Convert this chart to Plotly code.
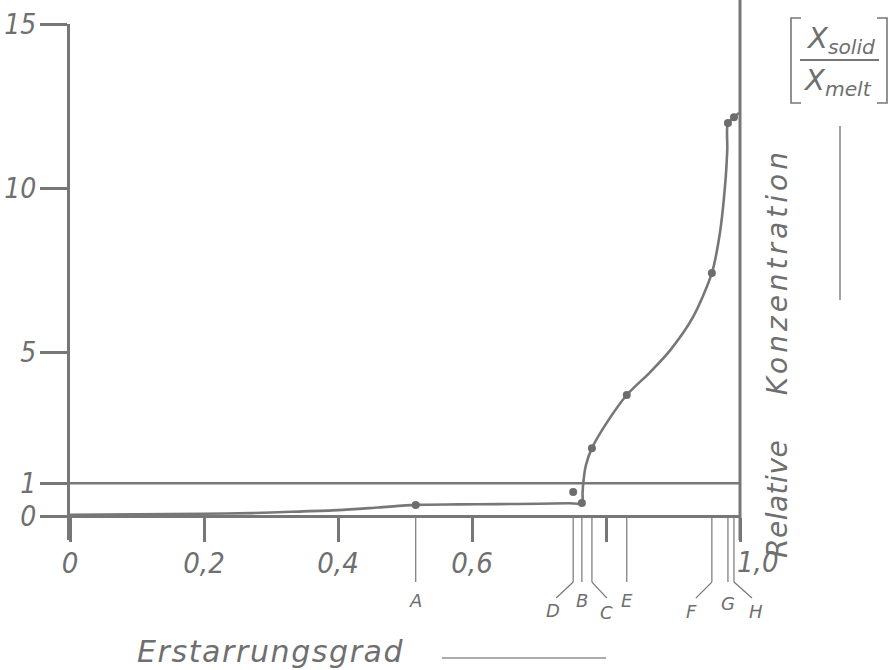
import plotly.graph_objects as go

# Sample positions: solidified fraction and relative concentration X_solid / X_melt
point_labels = ["A", "B", "C", "D", "E", "F", "G", "H"]
point_x = [0.516, 0.764, 0.779, 0.751, 0.831, 0.958, 0.982, 0.991]
point_y = [0.34, 0.40, 2.07, 0.73, 3.69, 7.41, 11.98, 12.16]

# Faired distribution curve through the samples
curve_x = [0.0, 0.10, 0.20, 0.27, 0.33, 0.40, 0.46, 0.516, 0.58, 0.64,
           0.70, 0.745, 0.764, 0.765, 0.766, 0.770, 0.779, 0.801, 0.831,
           0.866, 0.896, 0.930, 0.958, 0.970, 0.978, 0.981, 0.982,
           0.991, 0.9985]
curve_y = [0.04, 0.05, 0.07, 0.09, 0.13, 0.18, 0.26, 0.34, 0.355, 0.365,
           0.375, 0.39, 0.40, 0.70, 1.00, 1.55, 2.07, 2.84, 3.69,
           4.39, 5.06, 6.07, 7.41, 8.63, 10.15, 11.16, 11.98,
           12.16, 12.29]

# Axis ticks
y_tick_vals = [0, 1, 5, 10, 15]
y_tick_text = ["0", "1", "5", "10", "15"]
x_tick_vals = [0, 0.2, 0.4, 0.6, 0.8, 1.0]
x_tick_text = ["0", "0,2", "0,4", "0,6", "", ""]
x_end_label = "1,0"
reference_level = 1

# Page geometry
W, H = 893, 670
ML, MR, MT, MB = 70, 153, 24, 130
PW, PH = W - ML - MR, H - MT - MB
X_RANGE = [0.0, 1.0]
Y_RANGE = [-0.73, 15.0]

GREY = "#777777"
TEXT = "#6f6f6f"
NUM_FONT = "Liberation Sans Narrow, DejaVu Sans Condensed, Liberation Sans, sans-serif"
WORD_FONT = "DejaVu Sans, sans-serif"


def px(xp):
    return (xp - ML) / PW


def py(yp):
    return (H - MB - yp) / PH


def xpaper(x):
    return (x - X_RANGE[0]) / (X_RANGE[1] - X_RANGE[0])


y_zero = (0 - Y_RANGE[0]) / (Y_RANGE[1] - Y_RANGE[0])

fig = go.Figure()

fig.add_trace(go.Scatter(
    x=curve_x, y=curve_y, mode="lines",
    line=dict(color=GREY, width=2.6, shape="spline", smoothing=0.8),
    hoverinfo="skip", showlegend=False,
))
fig.add_trace(go.Scatter(
    x=point_x, y=point_y, mode="markers", text=point_labels,
    marker=dict(color="#6d6d6d", size=8),
    cliponaxis=False, showlegend=False,
))

shapes = []
annotations = []

# Reference level X_solid = X_melt
shapes.append(dict(type="line", xref="x", yref="y", x0=X_RANGE[0], x1=X_RANGE[1],
                   y0=reference_level, y1=reference_level,
                   line=dict(color=GREY, width=2.4)))

# Right frame line running up past the top
shapes.append(dict(type="line", xref="paper", yref="paper", x0=xpaper(1.0), x1=xpaper(1.0),
                   y0=0, y1=py(0), line=dict(color=GREY, width=3)))

# Leader lines from each sample down to its letter
bend = {"D": (-17, -20, -94), "C": (15, 15, -96), "F": (-16, -20, -95), "H": (18, 22, -95)}
for lab, xv in zip(point_labels, point_x):
    xa = xpaper(xv)
    common = dict(xref="paper", yref="paper", xsizemode="pixel", ysizemode="pixel",
                  xanchor=xa, yanchor=y_zero, line=dict(color=GREY, width=1.2))
    shapes.append(dict(type="line", x0=0, x1=0, y0=0, y1=-66, **common))
    if lab in bend:
        dx, lx, ly = bend[lab]
        shapes.append(dict(type="line", x0=0, x1=dx, y0=-66, y1=-82, **common))
    else:
        lx, ly = 0, (-87 if lab == "G" else -84)
    annotations.append(dict(text=lab, xref="paper", yref="paper", x=xa, y=y_zero,
                            xshift=lx, yshift=ly, showarrow=False,
                            xanchor="center", yanchor="middle",
                            font=dict(family=WORD_FONT, size=18, color=TEXT, style="italic")))

# Tick label at the right end of the abscissa
annotations.append(dict(text=x_end_label, xref="paper", yref="paper", x=xpaper(1.0), y=y_zero,
                        xshift=17, yshift=-46, showarrow=False, xanchor="center", yanchor="middle",
                        font=dict(family=NUM_FONT, size=29, color=TEXT, style="italic")))

# Abscissa title with arrow line
annotations.append(dict(text='<span style="letter-spacing:1.6px">Erstarrungsgrad</span>',
                        xref="paper", yref="paper", x=px(135), y=py(651), showarrow=False,
                        xanchor="left", yanchor="middle",
                        font=dict(family=WORD_FONT, size=30, color=TEXT, style="italic")))
shapes.append(dict(type="line", xref="paper", yref="paper", x0=px(442), x1=px(606),
                   y0=py(658), y1=py(658), line=dict(color="#8f8f8f", width=1.6)))

# Ordinate title, rotated, with arrow line
ordinate_title = ('<span style="letter-spacing:0.5px">Relative</span>'
                  '\u00a0\u00a0\u00a0\u00a0\u00a0'
                  '<span style="letter-spacing:4px">Konzentration</span>')
annotations.append(dict(text=ordinate_title,
                        xref="paper", yref="paper", x=px(777), y=py(353), showarrow=False,
                        textangle=-90, xanchor="center", yanchor="middle",
                        font=dict(family=WORD_FONT, size=28, color=TEXT, style="italic")))
shapes.append(dict(type="line", xref="paper", yref="paper", x0=px(840), x1=px(840),
                   y0=py(126), y1=py(300), line=dict(color="#8a8a8a", width=1.6)))

# Unit in brackets: X_solid / X_melt
shapes.append(dict(type="path", xref="paper", yref="paper",
                   path="M {a} {b} L {c} {b} L {c} {d} L {a} {d}".format(
                       a=px(801), b=py(18), c=px(791), d=py(103)),
                   line=dict(color=GREY, width=1.6)))
shapes.append(dict(type="path", xref="paper", yref="paper",
                   path="M {a} {b} L {c} {b} L {c} {d} L {a} {d}".format(
                       a=px(877), b=py(18), c=px(887), d=py(103)),
                   line=dict(color=GREY, width=1.6)))
shapes.append(dict(type="line", xref="paper", yref="paper", x0=px(800), x1=px(879),
                   y0=py(60), y1=py(60), line=dict(color=GREY, width=2)))
annotations.append(dict(text="X<sub>solid</sub>", xref="paper", yref="paper",
                        x=px(840), y=py(40), showarrow=False, xanchor="center", yanchor="middle",
                        font=dict(family=WORD_FONT, size=29, color=TEXT, style="italic")))
annotations.append(dict(text="X<sub>melt</sub>", xref="paper", yref="paper",
                        x=px(837), y=py(82), showarrow=False, xanchor="center", yanchor="middle",
                        font=dict(family=WORD_FONT, size=29, color=TEXT, style="italic")))

fig.update_layout(
    width=W, height=H,
    margin=dict(l=ML, r=MR, t=MT, b=MB, autoexpand=False),
    paper_bgcolor="white", plot_bgcolor="white",
    showlegend=False,
    shapes=shapes, annotations=annotations,
    xaxis=dict(range=X_RANGE, anchor="free", position=y_zero,
               showgrid=False, zeroline=False,
               showline=True, linecolor=GREY, linewidth=3,
               ticks="outside", ticklen=24, tickwidth=3, tickcolor=GREY,
               tickvals=x_tick_vals, ticktext=x_tick_text, ticklabelstandoff=-4,
               tickfont=dict(family=NUM_FONT, size=29, color=TEXT, style="italic")),
    yaxis=dict(range=Y_RANGE, showgrid=False, zeroline=False,
               showline=True, linecolor=GREY, linewidth=3,
               ticks="outside", ticklen=27, tickwidth=3, tickcolor=GREY,
               tickvals=y_tick_vals, ticktext=y_tick_text, ticklabelstandoff=-2,
               tickfont=dict(family=NUM_FONT, size=28, color=TEXT, style="italic")),
)

fig.write_html("out.html")
